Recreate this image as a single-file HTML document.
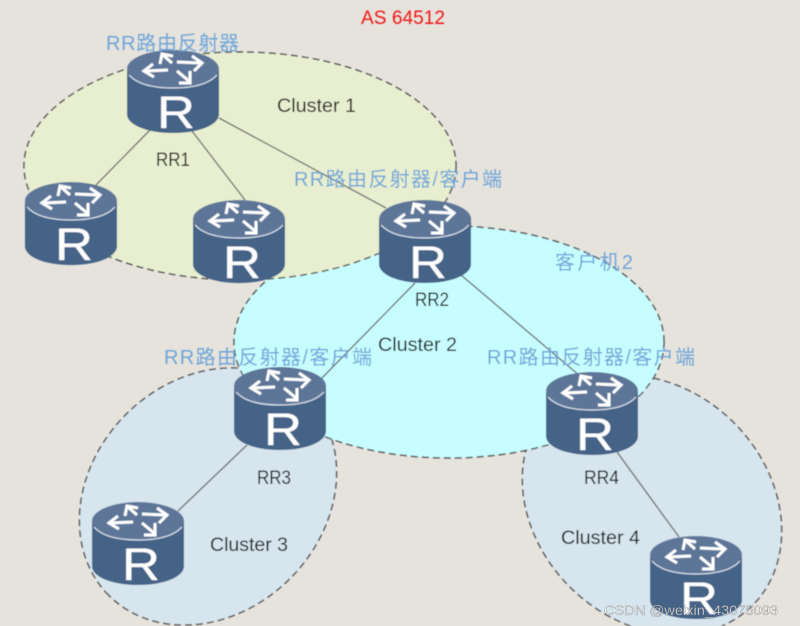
<!DOCTYPE html>
<html><head><meta charset="utf-8"><title>AS 64512</title>
<style>
html,body{margin:0;padding:0;background:#e6e3dd;width:800px;height:626px;overflow:hidden}
svg{display:block;overflow:hidden}
text{font-family:"Liberation Sans","Noto Sans CJK SC",sans-serif}
.k{fill:#111;font-size:19px}
.b{fill:#6fa5d8;font-size:20px}
.R{fill:#fff;font-size:45px;stroke:#fff;stroke-width:.2}
</style></head><body>
<svg width="800" height="626" viewBox="0 0 800 626" xmlns="http://www.w3.org/2000/svg">
<defs>
<filter id="s" filterUnits="userSpaceOnUse" x="0" y="0" width="800" height="626"><feGaussianBlur stdDeviation="0.45"/></filter>
<g id="router">
<path d="M0 19V64C0 75 20 83 46 83S92 75 92 64V19Z" fill="#446287"/>
<ellipse cx="46" cy="19" rx="46" ry="19" fill="#5d7698"/>
<path d="M2 25C10 34 26 38 46 38S82 34 90 25" fill="none" stroke="#d8e0ea" stroke-width="1.3"/>
<g fill="none" stroke="#fff" stroke-width="3">
<path d="M41 20L19 21M26 14L17 21L27 27"/>
<path d="M45 13L36 5M33 14L35 4L46 6"/>
<path d="M50 12L73 13M65 6L75 13L67 21"/>
<path d="M50 21L62 31M63 21L63 33L52 33"/>
</g>
</g>
</defs>
<rect width="800" height="626" fill="#e6e3dd"/>
<g filter="url(#s)">
<g stroke="#4d4d4d" stroke-width="1.4" stroke-dasharray="7 4">
<path d="M109 595.5A140 116 -45 1 1 307 397.5A140 116 -45 1 1 109 595.5Z" fill="#d6e5ee"/>
<path d="M630.5 626A142 116 45 1 1 721.8 626" fill="#d6e5ee"/>
<ellipse cx="449" cy="342" rx="215" ry="116" fill="#c8fdff"/>
<ellipse cx="240" cy="166" rx="216" ry="114" fill="#e8efd0"/>
</g>
<g stroke="#666" stroke-width="1.3">
<line x1="150" y1="130" x2="96" y2="185"/>
<line x1="192" y1="131" x2="245" y2="200"/>
<line x1="219" y1="118" x2="386" y2="208"/>
<line x1="415" y1="283" x2="320" y2="380"/>
<line x1="461" y1="275" x2="580" y2="376"/>
<line x1="247" y1="445" x2="178" y2="511"/>
<line x1="617" y1="452" x2="679" y2="537"/>
</g>
<use href="#router" x="127" y="50"/><text class="R" x="176" y="128" text-anchor="middle" textLength="38" lengthAdjust="spacingAndGlyphs">R</text>
<use href="#router" x="25" y="182"/><text class="R" x="74" y="260" text-anchor="middle" textLength="38" lengthAdjust="spacingAndGlyphs">R</text>
<use href="#router" x="193" y="200"/><text class="R" x="242" y="278" text-anchor="middle" textLength="38" lengthAdjust="spacingAndGlyphs">R</text>
<use href="#router" x="379" y="200"/><text class="R" x="428" y="278" text-anchor="middle" textLength="38" lengthAdjust="spacingAndGlyphs">R</text>
<use href="#router" x="234" y="367"/><text class="R" x="283" y="445" text-anchor="middle" textLength="38" lengthAdjust="spacingAndGlyphs">R</text>
<use href="#router" x="546" y="372"/><text class="R" x="595" y="450" text-anchor="middle" textLength="38" lengthAdjust="spacingAndGlyphs">R</text>
<use href="#router" x="92" y="502"/><text class="R" x="141" y="580" text-anchor="middle" textLength="38" lengthAdjust="spacingAndGlyphs">R</text>
<use href="#router" x="650" y="536"/><text class="R" x="699" y="614" text-anchor="middle" textLength="38" lengthAdjust="spacingAndGlyphs">R</text>
<text x="361" y="24" fill="#f01818" font-size="19" textLength="84" lengthAdjust="spacingAndGlyphs">AS 64512</text>
<text class="b" x="106" y="50" textLength="133">RR路由反射器</text>
<text class="k" x="277" y="112" textLength="79" lengthAdjust="spacingAndGlyphs">Cluster 1</text>
<text class="k" x="156" y="166" textLength="34" lengthAdjust="spacingAndGlyphs">RR1</text>
<text class="b" x="294" y="186" textLength="208">RR路由反射器/客户端</text>
<text class="b" x="555" y="269" textLength="78">客户机2</text>
<text class="k" x="415" y="306" textLength="34" lengthAdjust="spacingAndGlyphs">RR2</text>
<text class="k" x="378" y="351" textLength="79" lengthAdjust="spacingAndGlyphs">Cluster 2</text>
<text class="b" x="164" y="364" textLength="208">RR路由反射器/客户端</text>
<text class="b" x="487" y="364" textLength="208">RR路由反射器/客户端</text>
<text class="k" x="257" y="484" textLength="34" lengthAdjust="spacingAndGlyphs">RR3</text>
<text class="k" x="584" y="484" textLength="35" lengthAdjust="spacingAndGlyphs">RR4</text>
<text class="k" x="210" y="551" textLength="78" lengthAdjust="spacingAndGlyphs">Cluster 3</text>
<text class="k" x="561" y="544" textLength="79" lengthAdjust="spacingAndGlyphs">Cluster 4</text>
</g>
<text x="604" y="615" font-size="14" fill="#fff" fill-opacity=".75" stroke="#666" stroke-width=".3" textLength="174" lengthAdjust="spacingAndGlyphs">CSDN @weixin_43075093</text>
</svg>
</body></html>
